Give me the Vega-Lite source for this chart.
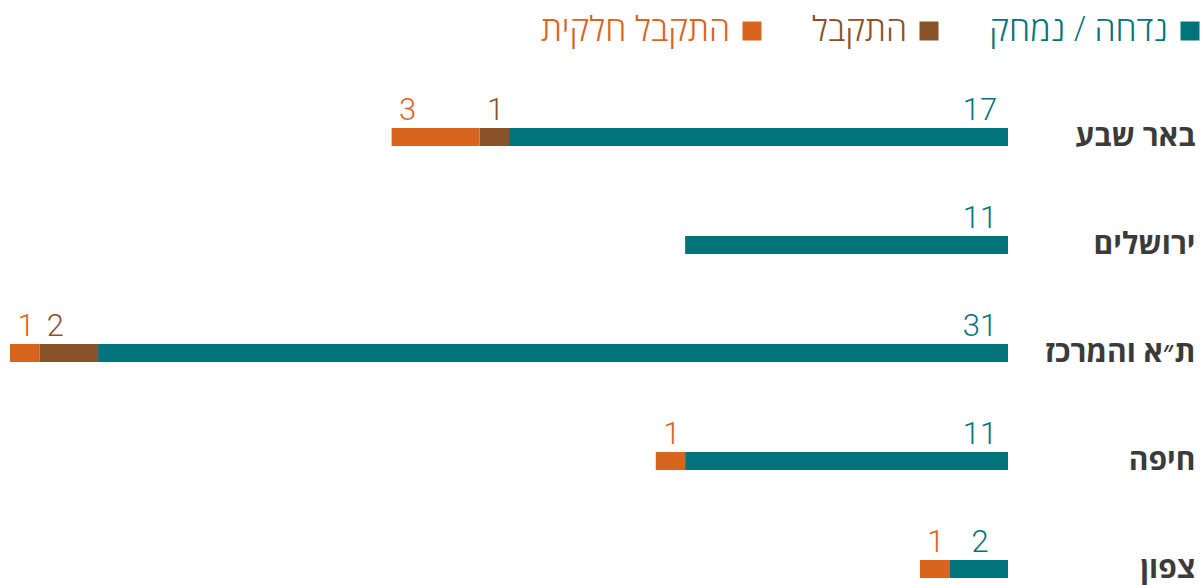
{
  "$schema": "https://vega.github.io/schema/vega-lite/v6.json",
  "width": 998,
  "height": 450,
  "autosize": {"type": "none"},
  "padding": {"left": 10, "top": 128, "right": 195, "bottom": 7},
  "background": "white",
  "config": {"view": {"stroke": null}},
  "data": {
    "values": [
      {"region": "באר שבע", "series": "נדחה / נמחק", "order": 1, "value": 17},
      {"region": "באר שבע", "series": "התקבל", "order": 2, "value": 1},
      {"region": "באר שבע", "series": "התקבל חלקית", "order": 3, "value": 3},
      {"region": "ירושלים", "series": "נדחה / נמחק", "order": 1, "value": 11},
      {"region": "ת״א והמרכז", "series": "נדחה / נמחק", "order": 1, "value": 31},
      {"region": "ת״א והמרכז", "series": "התקבל", "order": 2, "value": 2},
      {"region": "ת״א והמרכז", "series": "התקבל חלקית", "order": 3, "value": 1},
      {"region": "חיפה", "series": "נדחה / נמחק", "order": 1, "value": 11},
      {"region": "חיפה", "series": "התקבל חלקית", "order": 3, "value": 1},
      {"region": "צפון", "series": "נדחה / נמחק", "order": 1, "value": 2},
      {"region": "צפון", "series": "התקבל חלקית", "order": 3, "value": 1}
    ]
  },
  "transform": [
    {"stack": "value", "groupby": ["region"], "sort": [{"field": "order", "order": "ascending"}], "as": ["v0", "v1"]}
  ],
  "encoding": {
    "y": {
      "field": "region", "type": "nominal", "sort": null,
      "scale": {"paddingInner": 0.8333, "paddingOuter": 0},
      "axis": {
        "orient": "right", "title": null, "domain": false, "ticks": false,
        "labelAlign": "right", "labelPadding": 187, "labelFont": "Open Sans",
        "labelFontSize": 30, "labelFontWeight": "bold", "labelColor": "#3b3b3b",
        "labelBaseline": "middle"
      }
    }
  },
  "layer": [
    {
      "mark": {"type": "bar"},
      "encoding": {
        "x": {"field": "v0", "type": "quantitative", "scale": {"domain": [0, 34], "reverse": true, "nice": false}, "axis": null},
        "x2": {"field": "v1"},
        "color": {
          "field": "series", "type": "nominal",
          "scale": {"domain": ["התקבל חלקית", "התקבל", "נדחה / נמחק"], "range": ["#d8651e", "#8a5228", "#00747a"]},
          "legend": {
            "orient": "none", "legendX": 725, "legendY": -114, "direction": "horizontal",
            "title": null, "symbolType": "square", "symbolSize": 361, "symbolStrokeWidth": 0, "symbolOpacity": 1,
            "labelAlign": "right", "labelOffset": -39, "labelBaseline": "middle",
            "columnPadding": 50, "labelFont": "Open Sans", "labelFontWeight": 300, "labelFontSize": 34,
            "labelLimit": 400,
            "labelColor": {"expr": "datum.value == 'נדחה / נמחק' ? '#00747a' : (datum.value == 'התקבל' ? '#8a5228' : '#d8651e')"}
          }
        }
      }
    },
    {
      "transform": [{"filter": "datum.order == 1"}],
      "mark": {"type": "text", "align": "center", "baseline": "alphabetic", "dx": -28, "dy": -17, "font": "Roboto", "fontWeight": 300, "fontSize": 31},
      "encoding": {
        "x": {"field": "v0", "type": "quantitative"},
        "text": {"field": "value", "type": "quantitative"},
        "color": {"field": "series", "type": "nominal"}
      }
    },
    {
      "transform": [{"filter": "datum.order != 1"}],
      "mark": {"type": "text", "align": "center", "baseline": "alphabetic", "dx": 16, "dy": -17, "font": "Roboto", "fontWeight": 300, "fontSize": 31},
      "encoding": {
        "x": {"field": "v1", "type": "quantitative"},
        "text": {"field": "value", "type": "quantitative"},
        "color": {"field": "series", "type": "nominal"}
      }
    }
  ]
}
